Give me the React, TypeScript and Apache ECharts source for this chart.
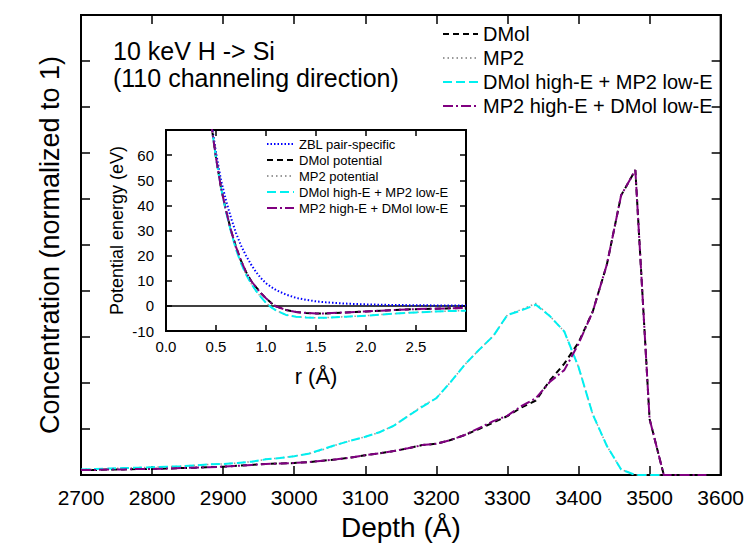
import React, { useEffect, useRef } from "react";
import * as echarts from "echarts";

// ---------- Main chart data (depth in Å, concentration) ----------
const depth = [
  2700, 2720, 2740, 2760, 2780, 2800, 2820, 2840, 2860, 2880,
  2900, 2920, 2940, 2960, 2980, 3000, 3020, 3040, 3060, 3080,
  3100, 3120, 3140, 3160, 3180, 3200, 3220, 3240, 3260, 3280,
  3300, 3320, 3340, 3360, 3380, 3400, 3420, 3440, 3460, 3480,
  3500, 3520, 3540, 3560, 3580,
];

const dmol = [
  0.11, 0.11, 0.12, 0.12, 0.13, 0.13, 0.14, 0.15, 0.16, 0.17,
  0.18, 0.2, 0.22, 0.24, 0.25, 0.26, 0.28, 0.31, 0.34, 0.38,
  0.43, 0.47, 0.52, 0.58, 0.65, 0.68, 0.76, 0.87, 1.0, 1.14,
  1.28, 1.47, 1.62, 2.06, 2.42, 2.88, 3.55, 4.58, 6.08, 6.63,
  1.22, 0.0, 0.0, 0.0, 0.0,
];

const mp2 = [
  0.12, 0.13, 0.14, 0.15, 0.16, 0.17, 0.18, 0.19, 0.21, 0.23,
  0.24, 0.26, 0.29, 0.34, 0.37, 0.41, 0.46, 0.55, 0.66, 0.75,
  0.83, 0.93, 1.07, 1.28, 1.5, 1.67, 2.02, 2.4, 2.72, 3.02,
  3.48, 3.6, 3.73, 3.45, 3.12, 2.35, 1.32, 0.63, 0.12, 0.0,
  0.0, 0.0, null, null, null,
];

const dmolHighMp2Low = [
  0.12, 0.13, 0.14, 0.15, 0.16, 0.17, 0.18, 0.19, 0.21, 0.23,
  0.24, 0.26, 0.29, 0.34, 0.37, 0.41, 0.46, 0.56, 0.66, 0.75,
  0.83, 0.93, 1.07, 1.28, 1.48, 1.67, 2.02, 2.4, 2.72, 3.02,
  3.48, 3.58, 3.7, 3.45, 3.12, 2.35, 1.32, 0.63, 0.12, 0.0,
  0.0, 0.0, null, null, null,
];

const mp2HighDmolLow = [
  0.11, 0.11, 0.12, 0.12, 0.13, 0.13, 0.14, 0.15, 0.16, 0.17,
  0.18, 0.2, 0.22, 0.24, 0.25, 0.26, 0.28, 0.31, 0.34, 0.38,
  0.43, 0.47, 0.52, 0.58, 0.65, 0.68, 0.76, 0.87, 1.02, 1.17,
  1.29, 1.5, 1.67, 2.03, 2.28, 2.85, 3.55, 4.58, 6.08, 6.63,
  1.22, 0.0, 0.0, 0.0, 0.0,
];

const depthTicks = ["2700", "2800", "2900", "3000", "3100", "3200", "3300", "3400", "3500", "3600"];

// ---------- Inset data (r in Å, potential energy in eV) ----------
const rValues = [
  0.45, 0.5, 0.55, 0.6, 0.65, 0.7, 0.75, 0.8, 0.85, 0.9,
  0.95, 1.0, 1.05, 1.1, 1.2, 1.3, 1.4, 1.5, 1.6, 1.8,
  2.0, 2.2, 2.5, 2.8, 3.0,
];

const zblPot = [
  74, 61, 50, 42, 35, 29, 24, 20, 16.5, 13.5,
  11, 9, 7.6, 6.3, 4.5, 3.2, 2.4, 1.8, 1.4, 0.9,
  0.6, 0.4, 0.25, 0.15, 0.1,
];

const dmolPot = [
  73, 59, 47, 38, 30, 23.5, 18, 13.5, 10, 7.5,
  5, 3, 1.2, -0.2, -1.6, -2.4, -2.8, -3.0, -3.0, -2.6,
  -2.2, -1.8, -1.3, -1.0, -0.8,
];

const mp2Pot = [
  73, 59, 47, 37.5, 29.5, 22.5, 17, 12.5, 9, 6,
  3.5, 1.2, -0.5, -1.8, -3.6, -4.3, -4.6, -4.7, -4.7, -4.3,
  -3.9, -3.3, -2.6, -2.1, -1.9,
];

const dmolHighMp2LowPot = [
  73, 59, 47, 37.5, 29.5, 22.5, 17, 12.5, 9, 6,
  3.5, 1.2, -0.5, -1.8, -3.6, -4.3, -4.6, -4.7, -4.7, -4.3,
  -3.9, -3.3, -2.6, -2.1, -1.9,
];

const mp2HighDmolLowPot = [
  73, 59, 47, 38, 30, 23.5, 18, 13.5, 10, 7.5,
  5, 3, 1.2, -0.2, -1.6, -2.4, -2.8, -3.0, -3.0, -2.6,
  -2.2, -1.8, -1.3, -1.0, -0.8,
];

const FONT = "Liberation Sans, Arial, Helvetica, sans-serif";

const pair = (xs: number[], ys: (number | null)[]) =>
  xs.map((x, i) => [x, ys[i]]);

export default function App() {
  const ref = useRef<HTMLDivElement>(null);

  useEffect(() => {
    if (!ref.current) return;
    const chart = echarts.init(ref.current, undefined, { renderer: "svg" });

    const frame = () => ({ show: true, onZero: false, lineStyle: { color: "#000", width: 2 } });
    const tickMain = () => ({ show: true, inside: true, length: 9, lineStyle: { color: "#000", width: 1.5 } });
    const tickInset = () => ({ show: true, inside: true, length: 6, lineStyle: { color: "#000", width: 1.5 } });

    const option: any = {
      animation: false,
      backgroundColor: "#fff",
      textStyle: { fontFamily: FONT },
      grid: [
        { left: 81, top: 15, width: 641, height: 460, show: true, borderColor: "#000", borderWidth: 2, backgroundColor: "transparent" },
        { left: 166, top: 130, width: 300, height: 201, show: true, backgroundColor: "#fff", borderColor: "#000", borderWidth: 2, z: 5 },
      ],
      xAxis: [
        {
          gridIndex: 0, type: "value", min: 2700, max: 3600, interval: 100, position: "bottom",
          axisLine: frame(), axisTick: tickMain(), splitLine: { show: false },
          axisLabel: {
            color: "#000", fontSize: 21, margin: 12, fontFamily: FONT,
            formatter: (v: number) => depthTicks[Math.round((v - 2700) / 100)] ?? "",
          },
          name: "Depth (Å)", nameLocation: "middle", nameGap: 38,
          nameTextStyle: { color: "#000", fontSize: 28, fontFamily: FONT },
        },
        {
          gridIndex: 0, type: "value", min: 2700, max: 3600, interval: 100, position: "top",
          axisLine: frame(), axisTick: tickMain(), axisLabel: { show: false }, splitLine: { show: false },
        },
        {
          gridIndex: 1, type: "value", min: 0, max: 3, interval: 0.5, position: "bottom", z: 6,
          axisLine: frame(), axisTick: tickInset(), splitLine: { show: false },
          axisLabel: {
            color: "#000", fontSize: 15, margin: 8, fontFamily: FONT, showMaxLabel: false,
            formatter: (v: number) => v.toFixed(1),
          },
          name: "r (Å)", nameLocation: "middle", nameGap: 34,
          nameTextStyle: { color: "#000", fontSize: 22, fontFamily: FONT },
        },
        {
          gridIndex: 1, type: "value", min: 0, max: 3, interval: 0.5, position: "top", z: 6,
          axisLine: frame(), axisTick: tickInset(), axisLabel: { show: false }, splitLine: { show: false },
        },
      ],
      yAxis: [
        {
          gridIndex: 0, type: "value", min: 0, max: 10, interval: 1, position: "left",
          axisLine: frame(), axisTick: tickMain(), axisLabel: { show: false }, splitLine: { show: false },
          name: "Concentration (normalized to 1)", nameLocation: "middle", nameGap: 18,
          nameTextStyle: { color: "#000", fontSize: 27, fontFamily: FONT },
        },
        {
          gridIndex: 0, type: "value", min: 0, max: 10, interval: 1, position: "right",
          axisLine: frame(), axisTick: tickMain(), axisLabel: { show: false }, splitLine: { show: false },
        },
        {
          gridIndex: 1, type: "value", min: -10, max: 70, interval: 10, position: "left", z: 6,
          axisLine: frame(), axisTick: tickInset(), splitLine: { show: false },
          axisLabel: { color: "#000", fontSize: 15, margin: 12, fontFamily: FONT, showMaxLabel: false },
          name: "Potential energy (eV)", nameLocation: "middle", nameGap: 40,
          nameTextStyle: { color: "#000", fontSize: 18, fontFamily: FONT },
        },
        {
          gridIndex: 1, type: "value", min: -10, max: 70, interval: 10, position: "right", z: 6,
          axisLine: frame(), axisTick: tickInset(), axisLabel: { show: false }, splitLine: { show: false },
        },
      ],
      legend: [
        {
          data: ["DMol", "MP2", "DMol high-E + MP2 low-E", "MP2 high-E + DMol low-E"],
          orient: "vertical", left: 437, top: 17, itemWidth: 35, itemHeight: 14, itemGap: 0,
          align: "left", itemStyle: { opacity: 0 },
          textStyle: { color: "#000", fontSize: 20, lineHeight: 24, fontFamily: FONT },
        },
        {
          data: ["ZBL pair-specific", "DMol potential", "MP2 potential", "DMol high-E + MP2 low-E ", "MP2 high-E + DMol low-E "],
          orient: "vertical", left: 261, top: 131, itemWidth: 27, itemHeight: 10, itemGap: 0,
          align: "left", z: 10, itemStyle: { opacity: 0 },
          textStyle: { color: "#000", fontSize: 13, lineHeight: 16, fontFamily: FONT },
        },
      ],
      graphic: [
        {
          type: "text", left: 113, top: 38, z: 10,
          style: { text: "10 keV H -> Si", fill: "#000", font: `25px ${FONT}` },
        },
        {
          type: "text", left: 113, top: 65, z: 10,
          style: { text: "(110 channeling direction)", fill: "#000", font: `25px ${FONT}` },
        },
      ],
      series: [
        // main
        {
          name: "DMol", type: "line", xAxisIndex: 0, yAxisIndex: 0, showSymbol: false, symbol: "none",
          data: pair(depth, dmol),
          lineStyle: { color: "#000", width: 2, type: [6, 4] }, itemStyle: { color: "#000" },
        },
        {
          name: "MP2", type: "line", xAxisIndex: 0, yAxisIndex: 0, showSymbol: false, symbol: "none",
          data: pair(depth, mp2),
          lineStyle: { color: "#999", width: 1.5, type: [1.5, 3] }, itemStyle: { color: "#999" },
        },
        {
          name: "DMol high-E + MP2 low-E", type: "line", xAxisIndex: 0, yAxisIndex: 0, showSymbol: false, symbol: "none",
          data: pair(depth, dmolHighMp2Low),
          lineStyle: { color: "#00f0f0", width: 2, type: [9, 4] }, itemStyle: { color: "#00f0f0" },
        },
        {
          name: "MP2 high-E + DMol low-E", type: "line", xAxisIndex: 0, yAxisIndex: 0, showSymbol: false, symbol: "none",
          data: pair(depth, mp2HighDmolLow),
          lineStyle: { color: "#800080", width: 2, type: [10, 3, 2, 3] }, itemStyle: { color: "#800080" },
        },
        // inset
        {
          name: "zero", type: "line", xAxisIndex: 2, yAxisIndex: 2, showSymbol: false, symbol: "none", z: 6,
          data: [[0, 0], [3, 0]],
          lineStyle: { color: "#000", width: 1.5 }, silent: true,
        },
        {
          name: "ZBL pair-specific", type: "line", xAxisIndex: 2, yAxisIndex: 2, showSymbol: false, symbol: "none", z: 7,
          data: pair(rValues, zblPot),
          lineStyle: { color: "#0000ff", width: 2, type: [1.5, 2] }, itemStyle: { color: "#0000ff" },
        },
        {
          name: "DMol potential", type: "line", xAxisIndex: 2, yAxisIndex: 2, showSymbol: false, symbol: "none", z: 7,
          data: pair(rValues, dmolPot),
          lineStyle: { color: "#000", width: 2, type: [6, 4] }, itemStyle: { color: "#000" },
        },
        {
          name: "MP2 potential", type: "line", xAxisIndex: 2, yAxisIndex: 2, showSymbol: false, symbol: "none", z: 7,
          data: pair(rValues, mp2Pot),
          lineStyle: { color: "#999", width: 1.5, type: [1.5, 3] }, itemStyle: { color: "#999" },
        },
        {
          name: "DMol high-E + MP2 low-E ", type: "line", xAxisIndex: 2, yAxisIndex: 2, showSymbol: false, symbol: "none", z: 7,
          data: pair(rValues, dmolHighMp2LowPot),
          lineStyle: { color: "#00f0f0", width: 2, type: [9, 4] }, itemStyle: { color: "#00f0f0" },
        },
        {
          name: "MP2 high-E + DMol low-E ", type: "line", xAxisIndex: 2, yAxisIndex: 2, showSymbol: false, symbol: "none", z: 7,
          data: pair(rValues, mp2HighDmolLowPot),
          lineStyle: { color: "#800080", width: 2, type: [10, 3, 2, 3] }, itemStyle: { color: "#800080" },
        },
      ],
    };

    chart.setOption(option);
    return () => chart.dispose();
  }, []);

  return <div ref={ref} style={{ width: 747, height: 547, position: "absolute", left: 0, top: 0 }} />;
}
